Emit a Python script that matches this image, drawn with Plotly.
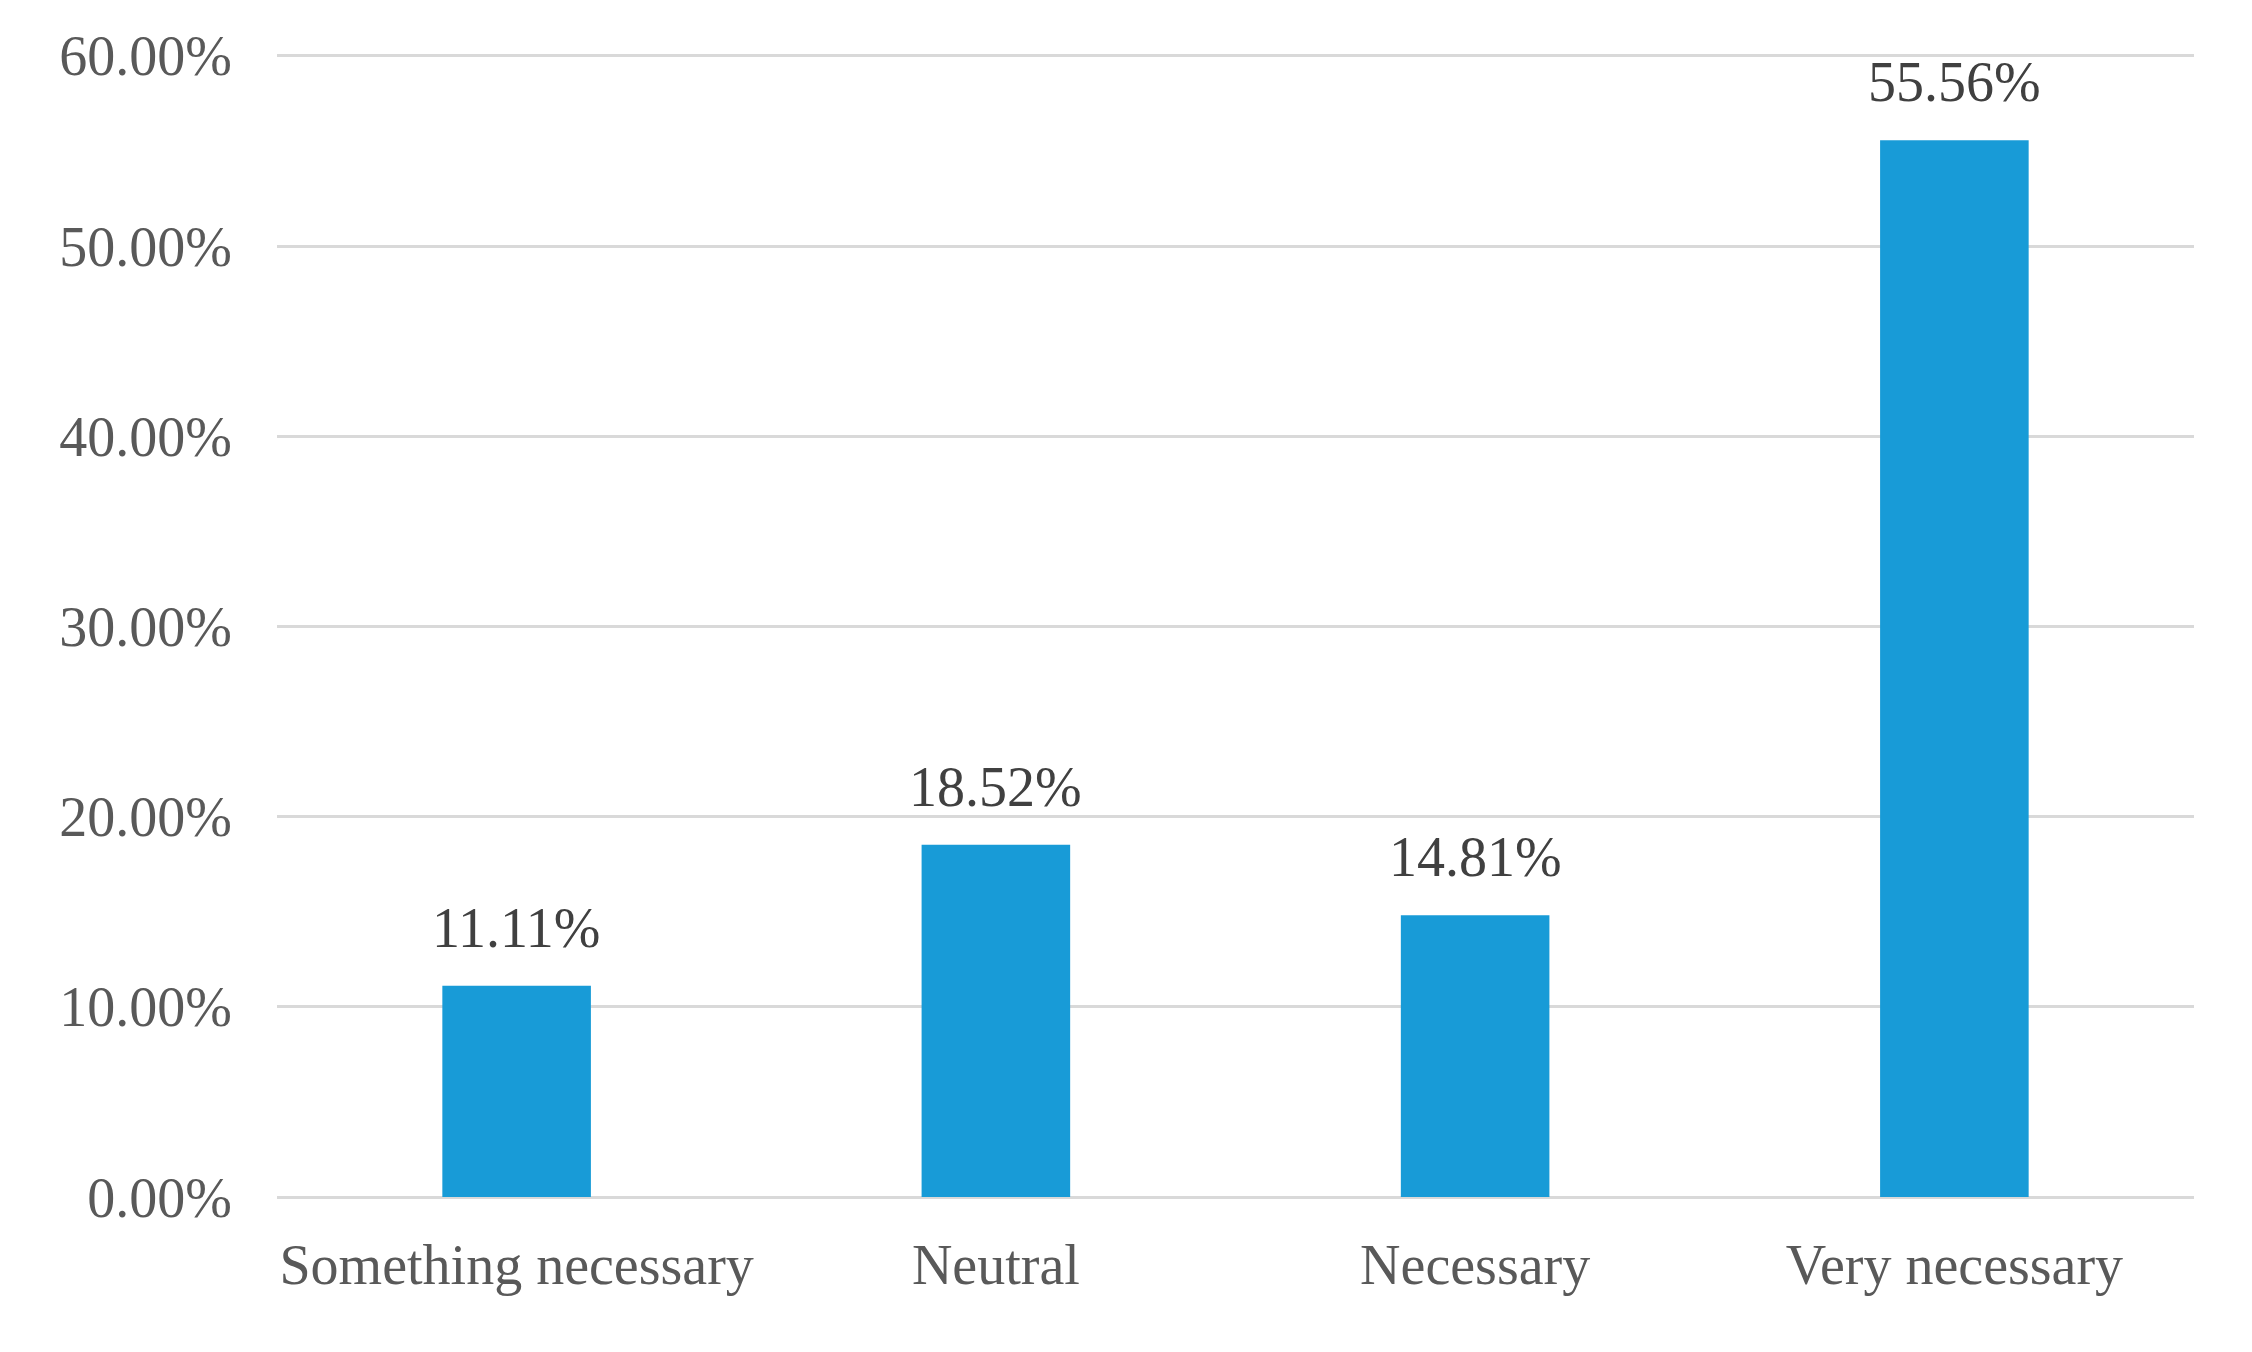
import plotly.graph_objects as go

categories = ["Something necessary", "Neutral", "Necessary", "Very necessary"]
values = [0.1111, 0.1852, 0.1481, 0.5556]
tick_vals = [0, 0.1, 0.2, 0.3, 0.4, 0.5, 0.6]

FONT = "Liberation Serif, Times New Roman, serif"

fig = go.Figure()
fig.add_trace(go.Bar(
    x=categories, y=values,
    marker=dict(color="#189BD7", line=dict(width=0)),
    hoverinfo="skip",
))

for c, v in zip(categories, values):
    fig.add_annotation(
        x=c, y=v, text=f"{v*100:.2f}%", showarrow=False,
        yanchor="middle", yshift=58,
        font=dict(family=FONT, size=56, color="#404040"),
    )

fig.update_layout(
    width=2252, height=1352,
    margin=dict(l=269, r=66, t=45, b=163),
    paper_bgcolor="white", plot_bgcolor="white",
    bargap=0.69,
    showlegend=False,
    font=dict(family=FONT, size=56, color="#595959"),
)
fig.update_xaxes(
    showgrid=False, showline=False, zeroline=False,
    ticks="", ticklabelstandoff=30,
    tickfont=dict(family=FONT, size=56, color="#595959"),
    range=[-0.5, 3.5],
)
fig.update_yaxes(
    range=[0, 0.6015], tickvals=tick_vals, tickformat=".2%",
    showgrid=True, gridcolor="#D9D9D9", gridwidth=3,
    zeroline=True, zerolinecolor="#D9D9D9", zerolinewidth=3,
    showline=False, ticks="", ticklabelstandoff=44,
    tickfont=dict(family=FONT, size=56, color="#595959"),
)

fig.write_html("out.html")
